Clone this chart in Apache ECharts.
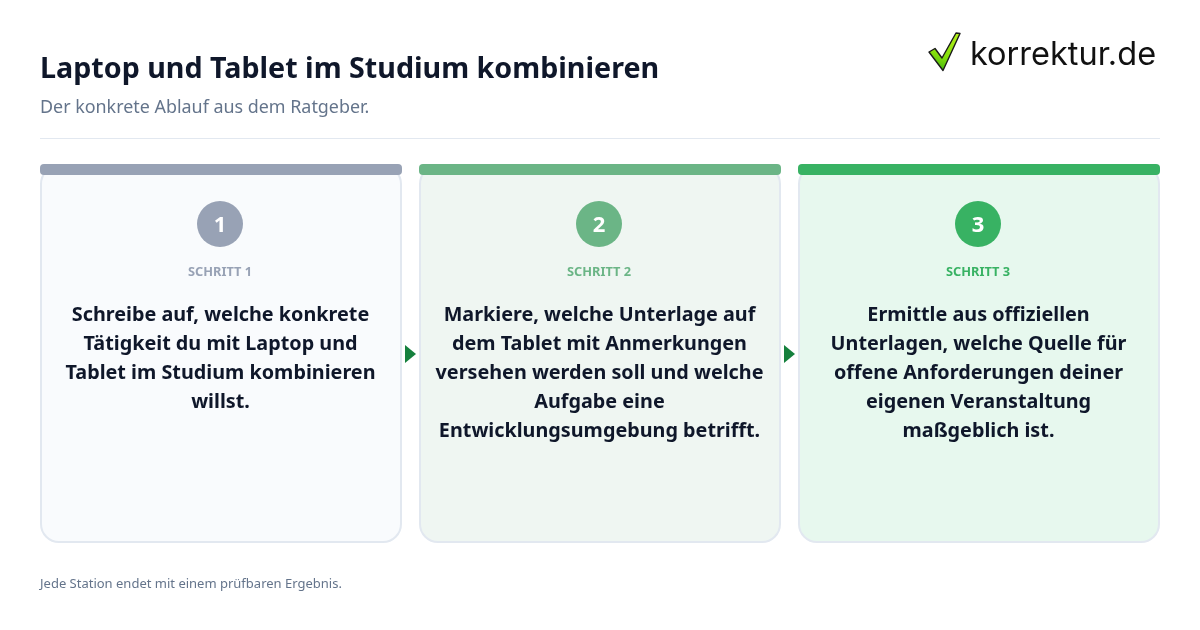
<!DOCTYPE html>
<html lang="de">
<head>
<meta charset="utf-8" />
<title>Laptop und Tablet im Studium kombinieren</title>
<script src="https://cdn.jsdelivr.net/npm/echarts@6/dist/echarts.min.js"></script>
</head>
<body style="margin:0;background:#fff">
<div id="chart" style="width:1200px;height:630px"></div>
<script>
let titleText = 'Laptop und Tablet im Studium kombinieren'
let subtitleText = 'Der konkrete Ablauf aus dem Ratgeber.'
let footerText = 'Jede Station endet mit einem prüfbaren Ergebnis.'
let logoText = 'korrektur.de'
let stepNumbers = ['1', '2', '3']
let stepLabels = ['SCHRITT 1', 'SCHRITT 2', 'SCHRITT 3']
let stepTexts = [
    ['Schreibe auf, welche konkrete', 'Tätigkeit du mit Laptop und', 'Tablet im Studium kombinieren', 'willst.'],
    ['Markiere, welche Unterlage auf', 'dem Tablet mit Anmerkungen', 'versehen werden soll und welche', 'Aufgabe eine', 'Entwicklungsumgebung betrifft.'],
    ['Ermittle aus offiziellen', 'Unterlagen, welche Quelle für', 'offene Anforderungen deiner', 'eigenen Veranstaltung', 'maßgeblich ist.']
]
let stepColors = ['#98a2b5', '#6bb586', '#38b263']
let cardFills = ['#f9fbfd', '#eff6f2', '#e7f8ee']

const FONT = '"Noto Sans", sans-serif'
let chart = echarts.init(document.getElementById('chart'), null, { renderer: 'canvas' })
let els = []

function text(x, y, str, size, weight, color, align, family) {
    els.push({
        type: 'text', x: x, y: y,
        style: { text: str, fontSize: size, fontWeight: weight, fill: color, align: align || 'left', verticalAlign: 'middle', fontFamily: family || FONT }
    })
}

text(40, 70, titleText, 28.66, 700, '#0f172a')
text(40, 108, subtitleText, 17.9, 400, '#64748b')
els.push({ type: 'rect', shape: { x: 40, y: 138, width: 1120, height: 1 }, style: { fill: '#e2e8f0' } })

stepNumbers.forEach(function(num, i) {
    let left = 40 + i * 379
    let mid = left + 180
    // Karte
    els.push({ type: 'rect', shape: { x: left + 1, y: 166, width: 360, height: 376, r: 18 }, style: { fill: cardFills[i], stroke: '#e2e8f0', lineWidth: 2 } })
    // farbiger Balken oben
    els.push({ type: 'rect', shape: { x: left, y: 164, width: 362, height: 11, r: 4 }, style: { fill: stepColors[i] } })
    els.push({ type: 'circle', shape: { cx: mid, cy: 224, r: 23 }, style: { fill: stepColors[i] } })
    text(mid, 226, num, 22, 700, '#ffffff', 'center')
    text(mid, 272.5, stepLabels[i], 12.8, 700, stepColors[i], 'center')
    stepTexts[i].forEach(function(line, k) {
        text(mid + 0.5, 315.5 + k * 29, line, 19.8, 700, '#0f172a', 'center')
    })
    // Pfeil zur nächsten Karte
    if (i < 2) {
        els.push({ type: 'polygon', shape: { points: [[left + 365, 345], [left + 376, 354], [left + 365, 363]] }, style: { fill: '#15803d' } })
    }
})

text(40, 584, footerText, 13, 400, '#64748b')

// Logo
els.push({
    type: 'polygon',
    shape: { points: [[929, 52], [935, 48.5], [942, 58], [956, 33], [960, 33.5], [943, 70.5]] },
    style: {
        fill: new echarts.graphic.LinearGradient(0.7, 0, 0.3, 1, [{ offset: 0, color: '#b4f01a' }, { offset: 0.6, color: '#86df0c' }, { offset: 1, color: '#3fb50e' }]),
        stroke: '#1a1a1a', lineWidth: 1.4, lineJoin: 'round'
    }
})
text(970, 55, logoText, 32.5, 400, '#111111', 'left', 'Inter, sans-serif')

chart.setOption({ animation: false, graphic: { elements: els } })
</script>
</body>
</html>
